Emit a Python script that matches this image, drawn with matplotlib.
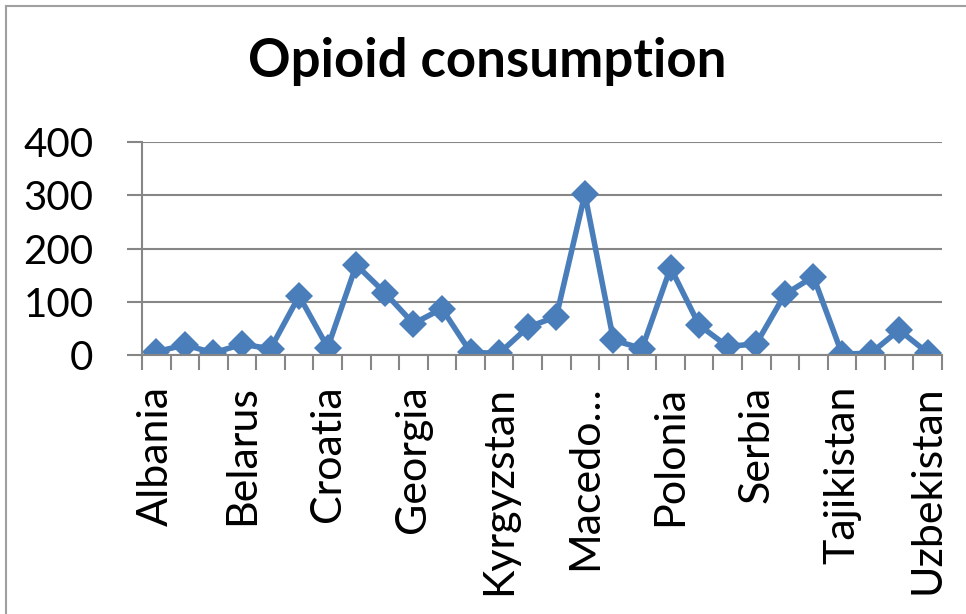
import numpy as np
import matplotlib
matplotlib.use("Agg")
import matplotlib.pyplot as plt
from matplotlib.lines import Line2D

# Data
countries = ['Albania', 'Armenia', 'Azerbaijan', 'Belarus', 'Bosnia', 'Bulgaria',
             'Croatia', 'Czech Republic', 'Estonia', 'Georgia', 'Hungary', 'Kazakhstan',
             'Kyrgyzstan', 'Latvia', 'Lithuania', 'Macedo\u2026', 'Moldova', 'Montenegro',
             'Polonia', 'Romania', 'Russia', 'Serbia', 'Slovakia', 'Slovenia',
             'Tajikistan', 'Turkmenistan', 'Ukraine', 'Uzbekistan']
consumption = [6, 19, 4, 20, 12, 111, 14, 169, 117, 59, 87, 5, 3, 52,
               72, 302, 28, 12, 164, 56, 16, 21, 114, 147, 2, 3, 47, 4]
yticks = [0, 100, 200, 300, 400]

plt.rcParams['font.family'] = ['Lato', 'DejaVu Sans']

fig = plt.figure(figsize=(9.66, 6.14), dpi=100)
ax = fig.add_axes([142/966, 1 - 355/614, 800/966, 213/614])

x = np.arange(len(consumption))
ax.plot(x, consumption, color='#4A7EBB', lw=4.0, marker='D', markersize=14,
        markeredgewidth=0, solid_joinstyle='miter')

ax.set_xlim(-0.5, len(consumption) - 0.5)
ax.set_ylim(0, 400)

grid_c = '#868686'
ax.set_yticks(yticks)
ax.yaxis.grid(True, color=grid_c, lw=1.5)
ax.set_axisbelow(True)

# category labels on every third country, tick marks at category boundaries
ax.set_xticks(x[::3])
ax.set_xticklabels(countries[::3], rotation=90)
ax.set_xticks(np.arange(-0.5, len(consumption)), minor=True)
ax.tick_params(axis='x', which='major', length=0, pad=22, labelsize=31)
ax.tick_params(axis='x', which='minor', length=11, width=1.5, color=grid_c, direction='out')
ax.tick_params(axis='y', length=11, width=1.5, color=grid_c, pad=24, labelsize=29)

for s in ['top', 'right']:
    ax.spines[s].set_visible(False)
for s in ['left', 'bottom']:
    ax.spines[s].set_color(grid_c)
    ax.spines[s].set_linewidth(1.5)

fig.text(487/966, 1 - 62/614, 'Opioid consumption', ha='center', va='center',
         fontsize=38, fontweight='bold')

# outer chart border (left and top edges visible)
fig.add_artist(Line2D([6/966, 6/966], [0, 1 - 6/614], color='#A0A0A0', lw=1.5))
fig.add_artist(Line2D([6/966, 1], [1 - 6/614, 1 - 6/614], color='#A0A0A0', lw=1.5))

fig.savefig('out.png', dpi=100)
